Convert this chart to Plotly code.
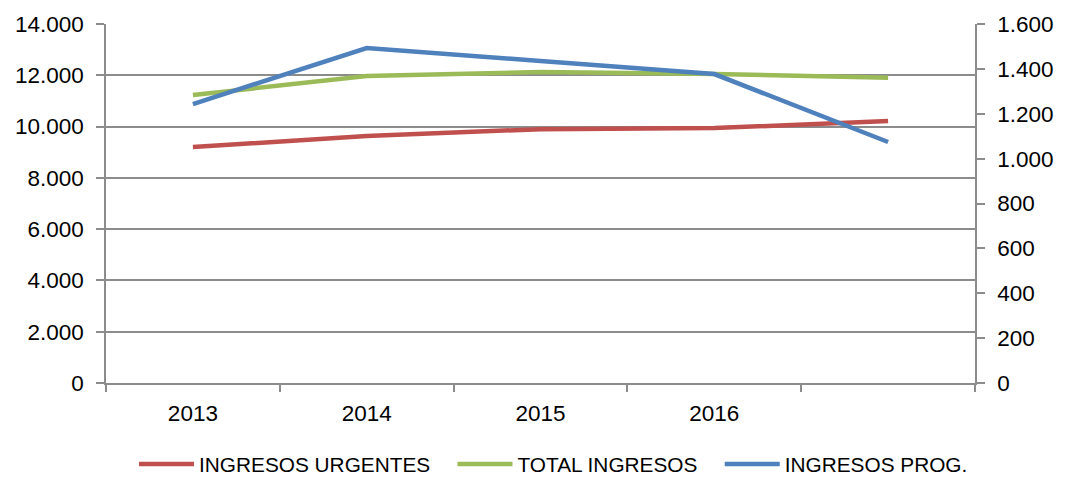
import plotly.graph_objects as go

years = ["2013", "2014", "2015", "2016", ""]
urgentes = [9200, 9630, 9900, 9940, 10220]
total = [11230, 11970, 12130, 12050, 11900]
programados = [1243, 1493, 1435, 1377, 1074]

FONT = "Liberation Sans, Arial, sans-serif"
GRID = "#8c8c8c"
PAD = "\u00a0\u00a0\u00a0"

x = list(range(len(years)))

fig = go.Figure()
fig.add_trace(go.Scatter(x=x, y=urgentes, name="INGRESOS URGENTES" + PAD, mode="lines",
                         line=dict(color="#C0504D", width=4.5)))
fig.add_trace(go.Scatter(x=x, y=total, name="TOTAL INGRESOS" + PAD, mode="lines",
                         line=dict(color="#9BBB59", width=4.5)))
fig.add_trace(go.Scatter(x=x, y=programados, name="INGRESOS PROG.", mode="lines",
                         line=dict(color="#4F81BD", width=4.5), yaxis="y2"))

# page body adds an 8px offset, so the figure is sized to the visible area
fig.update_layout(
    width=1059, height=470,
    margin=dict(l=98, r=92, t=16, b=95, autoexpand=False),
    paper_bgcolor="white", plot_bgcolor="white",
    separators=",.",
    font=dict(family=FONT, size=22.5, color="#000000"),
    showlegend=True,
    legend=dict(orientation="h", x=0.515, xanchor="center", y=-0.17, yanchor="top",
                font=dict(size=20.8), itemwidth=55, tracegroupgap=0),
    xaxis=dict(
        range=[-0.5, len(years) - 0.5], automargin=False,
        tickvals=x, ticktext=years, ticks="",
        showgrid=False, zeroline=False,
        showline=True, linecolor=GRID, linewidth=1.5,
        ticklabelstandoff=9,
        minor=dict(tickvals=[i - 0.5 for i in range(len(years) + 1)],
                   ticks="outside", ticklen=7, tickcolor=GRID, tickwidth=1.5,
                   showgrid=False),
    ),
    yaxis=dict(
        range=[0, 14000], dtick=2000, tickformat=",d", automargin=False,
        showgrid=True, gridcolor=GRID, gridwidth=1.5,
        zeroline=False, showline=True, linecolor=GRID, linewidth=1.5,
        ticks="outside", ticklen=8, tickcolor=GRID, tickwidth=1.5,
        ticklabelstandoff=8,
    ),
    yaxis2=dict(
        range=[0, 1600], dtick=200, tickformat=",d", automargin=False,
        overlaying="y", side="right",
        showgrid=False, zeroline=False,
        showline=True, linecolor=GRID, linewidth=1.5,
        ticks="outside", ticklen=8, tickcolor=GRID, tickwidth=1.5,
        ticklabelstandoff=8,
    ),
)

fig.write_html("out.html")
